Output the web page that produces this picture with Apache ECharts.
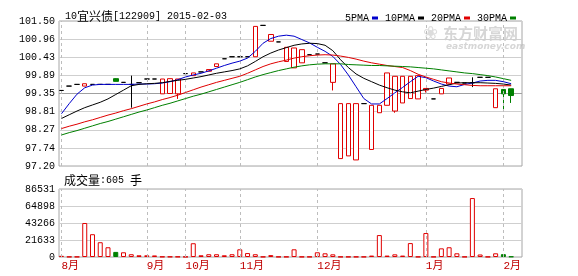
<!DOCTYPE html>
<html><head><meta charset="utf-8">
<script src="https://cdn.jsdelivr.net/npm/echarts@6/dist/echarts.min.js"></script>
<style>html,body{margin:0;padding:0;background:#fff}#c{width:578px;height:276px}</style>
</head><body><div id="c"></div>
<script>
// ---- data ----
const monthLabels = ['8月','9月','10月','11月','12月','1月','2月'];
const monthStartIndex = [0, 11, 16, 23, 33, 47, 57];
const openP  = [99.44,99.57,99.62,99.57,99.62,99.62,99.62,99.79,99.68,99.62,99.67,99.78,99.78,99.34,99.35,99.34,99.94,99.88,99.99,100.01,100.15,100.38,100.44,100.44,100.44,100.44,101.37,100.90,100.88,100.30,100.11,100.26,100.50,100.52,100.26,99.68,97.42,97.50,97.38,99.05,97.69,98.78,99.00,98.83,99.07,99.20,99.19,99.45,99.19,99.34,99.63,99.68,99.66,99.67,99.83,99.83,98.93,99.47,99.49];
const closeP = [99.44,99.57,99.62,99.64,99.62,99.62,99.62,99.71,99.68,99.62,99.67,99.78,99.78,99.78,99.79,99.78,99.94,99.96,99.99,100.06,100.23,100.38,100.44,100.44,100.44,101.34,101.37,101.10,100.88,100.72,100.70,100.65,100.50,100.52,100.26,100.23,99.05,99.05,99.05,99.05,99.00,99.00,99.96,99.86,99.86,99.86,99.88,99.50,99.19,99.50,99.81,99.68,99.66,99.67,99.83,99.83,99.49,99.34,99.29];
const lowP   = [99.44,99.57,99.62,99.57,99.62,99.62,99.62,99.71,99.68,98.93,99.67,99.78,99.78,99.34,99.35,99.19,99.94,99.88,99.99,100.01,100.15,100.38,100.44,100.44,100.44,100.44,101.37,100.90,100.88,100.30,100.11,100.26,100.50,100.52,100.26,99.44,97.42,97.50,97.38,99.05,97.69,98.78,99.00,98.78,99.07,99.20,99.19,99.38,99.19,99.34,99.63,99.68,99.66,99.54,99.83,99.83,98.93,98.86,99.07];
const highP  = [99.44,99.57,99.62,99.64,99.62,99.62,99.62,99.80,99.68,99.88,99.67,99.78,99.78,99.78,99.79,99.78,99.94,99.96,99.99,100.06,100.23,100.38,100.44,100.44,100.44,101.34,101.37,101.10,100.88,100.72,100.70,100.65,100.50,100.52,100.26,100.23,99.05,99.05,99.05,99.05,99.00,99.00,99.96,99.86,99.86,99.86,99.88,99.50,99.19,99.50,99.81,99.68,99.66,99.83,99.83,99.83,99.49,99.47,99.49];
const volume = [1500,300,300,43266,29000,18800,12400,6500,6000,3500,2200,2200,2000,400,400,400,300,17500,2200,3500,3500,2200,3500,9800,5000,3500,300,2400,300,300,9800,300,300,6000,4700,3400,300,300,300,300,1800,27900,1800,3400,1800,17700,300,30500,300,11000,12400,4700,300,75000,3200,300,4700,3600,605];
const ma5  = [98.75,99.05,99.33,99.52,99.60,99.62,99.62,99.62,99.62,99.62,99.63,99.63,99.64,99.66,99.70,99.76,99.84,99.90,99.95,100.02,100.10,100.18,100.25,100.31,100.40,100.60,100.84,100.98,101.05,101.08,101.05,100.95,100.85,100.72,100.60,100.45,100.21,99.90,99.55,99.20,99.04,99.04,99.20,99.37,99.53,99.70,99.86,99.82,99.72,99.63,99.57,99.55,99.62,99.66,99.72,99.74,99.74,99.70,99.64];
const ma10 = [98.61,98.72,98.83,98.93,99.01,99.09,99.19,99.32,99.45,99.58,99.62,99.64,99.65,99.67,99.71,99.74,99.77,99.81,99.85,99.90,99.95,99.99,100.03,100.08,100.17,100.30,100.44,100.55,100.64,100.71,100.78,100.82,100.84,100.83,100.78,100.62,100.35,100.12,99.93,99.80,99.70,99.60,99.52,99.45,99.40,99.37,99.42,99.47,99.51,99.56,99.61,99.66,99.67,99.67,99.67,99.66,99.65,99.63,99.60];
const ma20 = [98.31,98.38,98.44,98.51,98.57,98.64,98.71,98.77,98.84,98.90,98.97,99.04,99.10,99.17,99.23,99.30,99.38,99.46,99.54,99.61,99.68,99.74,99.80,99.86,99.95,100.05,100.15,100.23,100.29,100.34,100.40,100.44,100.47,100.49,100.50,100.49,100.46,100.42,100.37,100.31,100.26,100.22,100.18,100.15,100.12,100.03,99.92,99.84,99.77,99.70,99.66,99.63,99.61,99.59,99.58,99.58,99.58,99.58,99.58];
const ma30 = [98.12,98.19,98.25,98.32,98.39,98.46,98.52,98.59,98.66,98.73,98.80,98.86,98.93,99.00,99.06,99.13,99.20,99.27,99.33,99.40,99.47,99.54,99.61,99.68,99.76,99.84,99.91,99.97,100.03,100.08,100.13,100.17,100.20,100.22,100.23,100.23,100.23,100.21,100.20,100.19,100.18,100.18,100.17,100.16,100.15,100.14,100.12,100.10,100.08,100.05,100.02,99.99,99.96,99.94,99.91,99.88,99.84,99.79,99.74];
const priceTickLabels  = ['97.20','97.74','98.27','98.81','99.35','99.89','100.43','100.96','101.50'];
const volumeTickLabels = ['0','21633','43266','64898','86531'];
const maNames = ['5PMA','10PMA','20PMA','30PMA'];

// ---- build ----
const MONO = "'Liberation Mono','Noto Sans CJK SC',monospace";
const CJK = "'Noto Sans CJK SC',sans-serif";
const UP = '#e00000', DOWN = '#008000';
const priceMin = +priceTickLabels[0], priceMax = +priceTickLabels[priceTickLabels.length - 1];
const priceStep = (priceMax - priceMin) / (priceTickLabels.length - 1);
const volMax = +volumeTickLabels[volumeTickLabels.length - 1];
const volStep = volMax / (volumeTickLabels.length - 1);

const candleData = openP.map((o, i) => {
  const item = { value: [i, o, closeP[i], lowP[i], highP[i]] };
  if (o === closeP[i]) item.itemStyle = { borderColor: '#000', borderColor0: '#000', borderColorDoji: '#000' };
  return item;
});
const volData = volume.map((v, i) => {
  const down = closeP[i] < openP[i];
  return { value: [i, v], itemStyle: down ? { color: DOWN, borderColor: DOWN } : { color: '#fff', borderColor: UP } };
});
const maColors = ['#0000cc', '#000000', '#e00000', '#008000'];
const maLines = [ma5, ma10, ma20, ma30].map((arr, k) => ({
  name: maNames[k], type: 'line', xAxisIndex: 0, yAxisIndex: 0,
  data: arr.map((v, i) => [i, v]), showSymbol: false, symbol: 'none',
  lineStyle: { width: 1, color: maColors[k] }, itemStyle: { color: maColors[k] },
  z: 5, silent: true
}));
const monthMarks = {
  silent: true, symbol: ['none', 'none'], label: { show: false },
  lineStyle: { type: [3, 3], color: '#bdbdbd', width: 1 },
  data: monthStartIndex.map(i => ({ xAxis: i }))
};
const richTxt = {
  a: { fontFamily: MONO, fontSize: 10, color: '#000', fontWeight: 'normal' },
  b: { fontFamily: CJK, fontSize: 12, color: '#000', fontWeight: 'normal' }
};

const xBase = { type: 'value', min: -0.32, max: 59.4, axisLine: { show: false }, axisTick: { show: false }, splitLine: { show: false } };
const chart = echarts.init(document.getElementById('c'), null, { renderer: 'canvas' });
chart.setOption({
  animation: false,
  backgroundColor: '#fff',
  title: [
    { text: '{a|10}{b|宜兴债}{a|[122909] 2015-02-03}', left: 60, top: 5,
      textStyle: { fontWeight: 'normal', rich: richTxt } },
    { text: '{b|成交量}{a|:605 }{b|手}', left: 59, top: 169,
      textStyle: { fontWeight: 'normal', rich: richTxt } }
  ],
  legend: {
    data: maNames, right: 57, top: 8, icon: 'rect', itemWidth: 6, itemHeight: 3, itemGap: 7, align: 'right',
    textStyle: { fontFamily: MONO, fontSize: 10, color: '#000', padding: [0, -2, 0, 0] }, selectedMode: false
  },
  graphic: [
    { type: 'text', left: 443, top: 26, z: -10, style: { text: '东方财富网', font: 'bold 15px ' + CJK, fill: '#d6d6d6' } },
    { type: 'text', left: 446, top: 42, z: -10, style: { text: 'eastmoney.com', font: 'bold italic 9px "DejaVu Sans"', fill: '#d6d6d6' } },
    { type: 'text', left: 423, top: 25, z: -10, style: { text: '❀', font: 'bold 18px "DejaVu Sans"', fill: '#dcdcdc' } }
  ],
  grid: [
    { left: 59, right: 56, top: 21, height: 145, show: true, borderColor: '#a6a6a6', borderWidth: 1, backgroundColor: 'transparent' },
    { left: 59, right: 56, top: 189, height: 68, show: true, borderColor: '#a6a6a6', borderWidth: 1, backgroundColor: 'transparent' }
  ],
  xAxis: [
    Object.assign({ gridIndex: 0, axisLabel: { show: false } }, xBase),
    Object.assign({ gridIndex: 1, axisLabel: {
      show: true, customValues: monthStartIndex, align: 'left', margin: 4,
      formatter: v => monthLabels[monthStartIndex.indexOf(v)],
      color: '#c00000', fontFamily: MONO, fontSize: 11
    } }, xBase)
  ],
  yAxis: [
    { type: 'value', gridIndex: 0, min: priceMin, max: priceMax, interval: priceStep,
      axisLine: { show: false }, axisTick: { show: false },
      axisLabel: { formatter: v => priceTickLabels[Math.round((v - priceMin) / priceStep)], fontFamily: MONO, fontSize: 10, color: '#000', margin: 4 },
      splitLine: { show: true, lineStyle: { color: ['#cfcfcf', '#cfcfcf', '#cfcfcf', '#cfcfcf', '#a0a0a0', '#cfcfcf', '#cfcfcf', '#cfcfcf', '#cfcfcf'], width: 1 } } },
    { type: 'value', gridIndex: 1, min: 0, max: volMax, interval: volStep,
      axisLine: { show: false }, axisTick: { show: false },
      axisLabel: { formatter: v => volumeTickLabels[Math.round(v / volStep)], fontFamily: MONO, fontSize: 10, color: '#000', margin: 4 },
      splitLine: { show: true, lineStyle: { color: '#cfcfcf', width: 1 } } }
  ],
  series: [
    { type: 'candlestick', name: 'K', xAxisIndex: 0, yAxisIndex: 0, barWidth: 5,
      encode: { x: 0, y: [1, 2, 3, 4] },
      data: candleData,
      itemStyle: { color: '#fff', color0: DOWN, borderColor: UP, borderColor0: DOWN, borderColorDoji: '#000', borderWidth: 1 },
      markLine: monthMarks, z: 3 },
    ...maLines,
    { type: 'bar', name: 'VOL', xAxisIndex: 1, yAxisIndex: 1, barWidth: 5, data: volData,
      itemStyle: { borderWidth: 1 }, markLine: monthMarks, z: 3 }
  ]
});
</script></body></html>
